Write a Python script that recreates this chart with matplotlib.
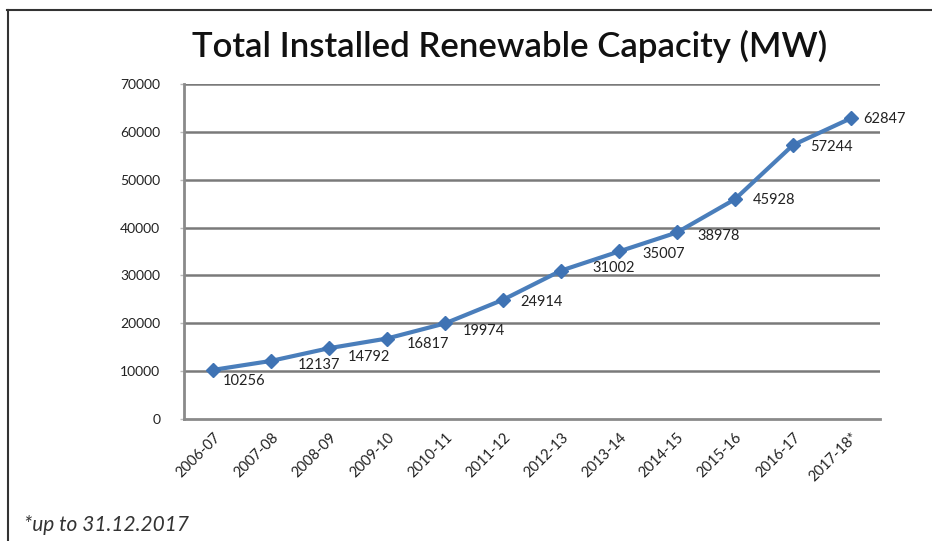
import matplotlib
matplotlib.use("Agg")
import matplotlib.pyplot as plt
from matplotlib.lines import Line2D

# Financial years and cumulative installed renewable capacity (MW)
years = ["2006-07", "2007-08", "2008-09", "2009-10", "2010-11", "2011-12",
         "2012-13", "2013-14", "2014-15", "2015-16", "2016-17", "2017-18*"]
capacity_mw = [10256, 12137, 14792, 16817, 19974, 24914,
               31002, 35007, 38978, 45928, 57244, 62847]
y_ticks = [0, 10000, 20000, 30000, 40000, 50000, 60000, 70000]

# Per-label offsets (pixels) for the value annotations
label_offsets = [(10, -11), (27, -4), (19, -9), (20, -5), (18, -8), (17, -2),
                 (31, 3), (23, -3), (20, -4), (18, -1), (17, -2), (12, -1)]

FONT = ["Lato", "DejaVu Sans"]
plt.rcParams["font.family"] = FONT

W, H = 932, 541
fig = plt.figure(figsize=(W / 100, H / 100), dpi=100)
fig.patch.set_facecolor("white")

ax = fig.add_axes([184 / W, 1 - 419 / H, (880 - 184) / W, (419 - 84) / H])
x = list(range(len(years)))

ax.set_xlim(-0.5, len(years) - 0.5)
ax.set_ylim(0, 70000)
ax.set_yticks(y_ticks)
ax.set_yticklabels([str(v) for v in y_ticks], fontsize=10, color="#222222")
ax.set_xticks(x)
ax.set_xticklabels(years, rotation=45, ha="right", va="top",
                   rotation_mode="anchor", fontsize=10.5, color="#222222")
ax.tick_params(axis="y", length=3, width=1, color="#bbbbbb", pad=14)
ax.tick_params(axis="x", length=0, pad=8)

for v in y_ticks[1:]:
    ax.axhline(v, color="#7a7a7a", lw=1.8, zorder=1)

for side in ("top", "right"):
    ax.spines[side].set_visible(False)
for side in ("left", "bottom"):
    ax.spines[side].set_color("#8a8a8a")
    ax.spines[side].set_linewidth(2)

ax.plot(x, capacity_mw, color="#4a7ebb", lw=3, marker="D", markersize=7,
        markerfacecolor="#3f73b4", markeredgecolor="#3f73b4", zorder=3)

for xi, v, (dx, dy) in zip(x, capacity_mw, label_offsets):
    ax.annotate(str(v), (xi, v), xytext=(dx, dy), textcoords="offset pixels",
                ha="left", va="center", fontsize=10.5, color="#222222",
                zorder=4)

fig.text(510 / W, 1 - 46 / H, "Total Installed Renewable Capacity (MW)",
         ha="center", va="center", fontsize=25, fontweight="semibold",
         color="#111111")

fig.text(24 / W, 1 - 525 / H, "*up to 31.12.2017", ha="left", va="center",
         fontsize=15, style="italic", color="#333333")

# Outer frame (top and left edges)
fig.add_artist(Line2D([7 / W, 1.0], [1 - 10 / H, 1 - 10 / H],
                      transform=fig.transFigure, color="#333333", lw=1.5))
fig.add_artist(Line2D([8 / W, 8 / W], [0, 1 - 10 / H],
                      transform=fig.transFigure, color="#333333", lw=1.5))

fig.savefig("out.png", dpi=100, facecolor="white")
